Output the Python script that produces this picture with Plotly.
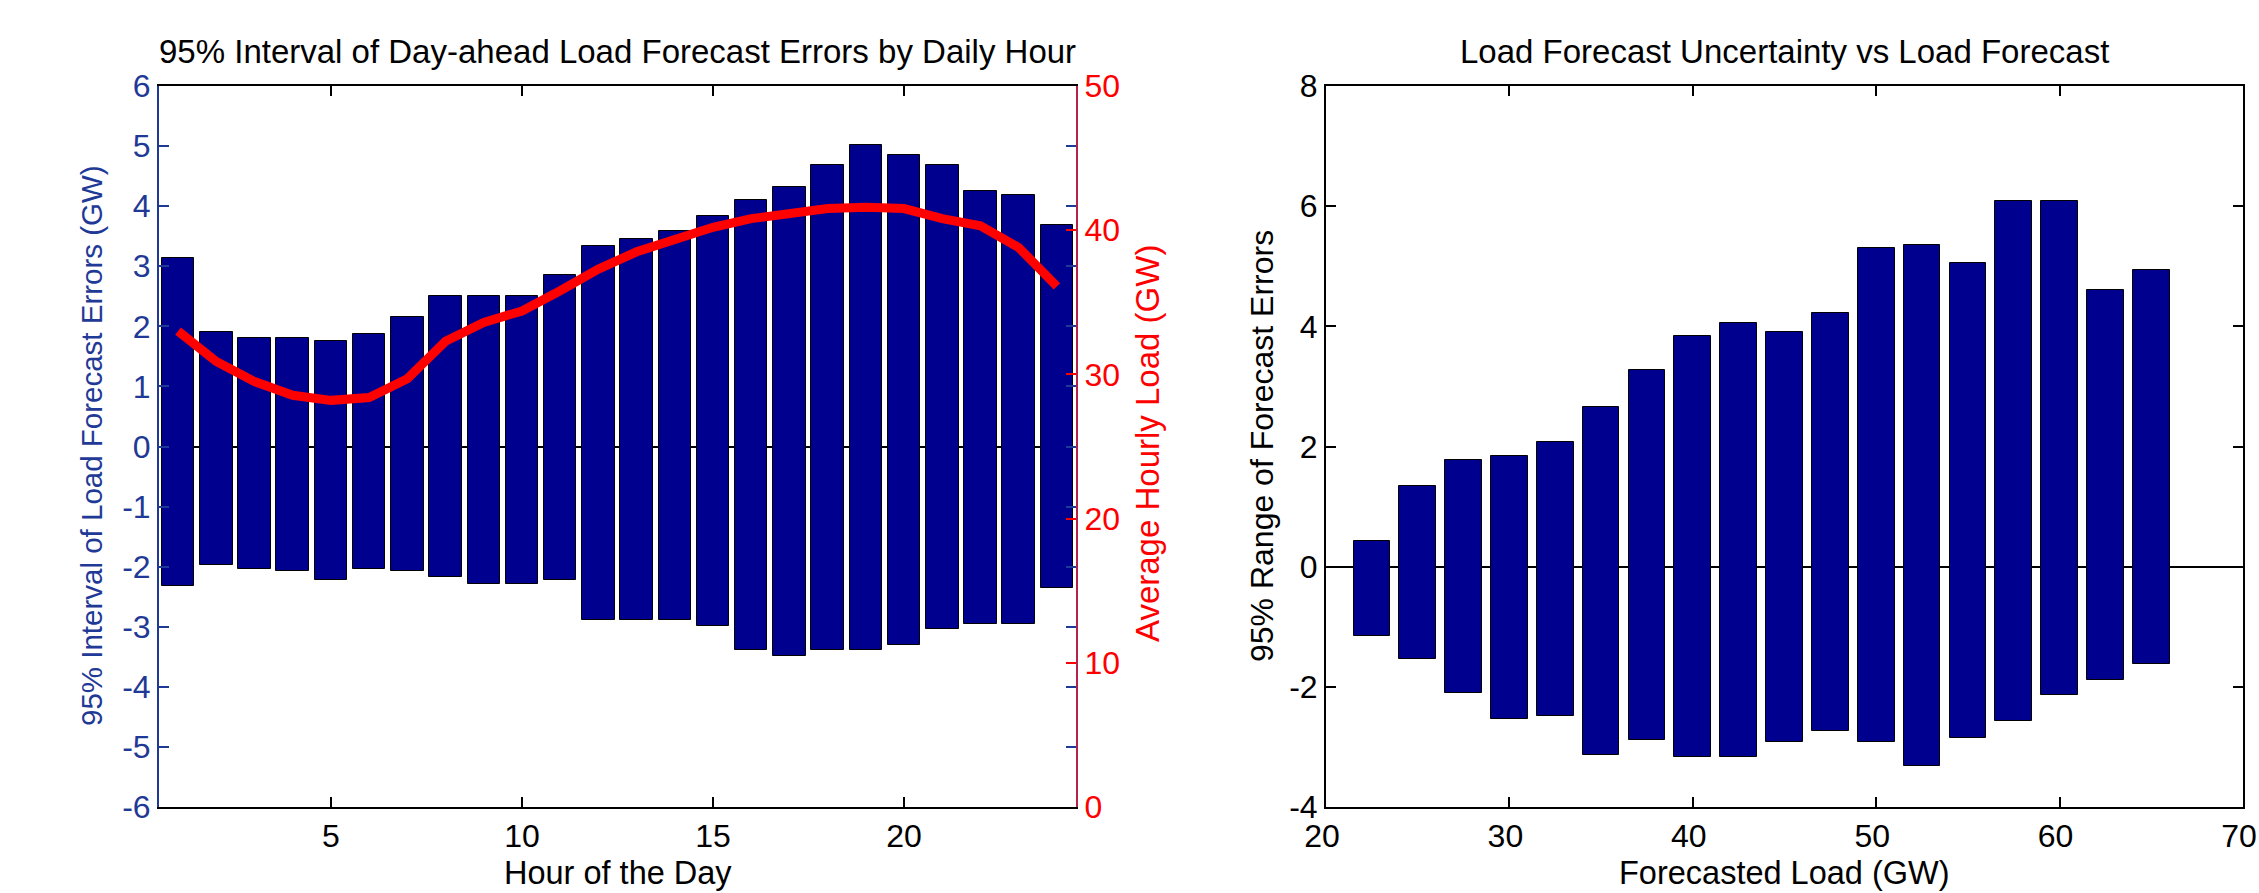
import plotly.graph_objects as go

# ---------------- data ----------------
hours = list(range(1, 25))
hour_err_high = [3.13, 1.90, 1.80, 1.80, 1.76, 1.87, 2.15, 2.50, 2.50, 2.50, 2.85, 3.34,
                 3.45, 3.59, 3.83, 4.11, 4.32, 4.68, 5.02, 4.85, 4.68, 4.25, 4.19, 3.68]
hour_err_low = [-2.32, -1.97, -2.04, -2.08, -2.22, -2.04, -2.08, -2.18, -2.29, -2.29, -2.22, -2.89,
                -2.89, -2.89, -2.99, -3.38, -3.48, -3.38, -3.38, -3.31, -3.03, -2.95, -2.95, -2.36]
avg_hourly_load = [33.0, 30.9, 29.5, 28.55, 28.2, 28.4, 29.7, 32.3, 33.6, 34.4, 35.8, 37.3,
                   38.5, 39.4, 40.2, 40.8, 41.2, 41.5, 41.6, 41.5, 40.8, 40.3, 38.8, 36.1]

load_bins = [22.5, 25.0, 27.5, 30.0, 32.5, 35.0, 37.5, 40.0, 42.5,
             45.0, 47.5, 50.0, 52.5, 55.0, 57.5, 60.0, 62.5, 65.0]
bin_err_high = [0.43, 1.34, 1.77, 1.84, 2.08, 2.66, 3.28, 3.84, 4.06,
                3.91, 4.23, 5.31, 5.35, 5.06, 6.08, 6.08, 4.61, 4.93]
bin_err_low = [-1.16, -1.54, -2.11, -2.53, -2.49, -3.13, -2.88, -3.16, -3.16,
               -2.92, -2.74, -2.92, -3.31, -2.85, -2.57, -2.14, -1.89, -1.62]

left_y_ticks = [-6, -5, -4, -3, -2, -1, 0, 1, 2, 3, 4, 5, 6]
left_y_labels = ["-6", "-5", "-4", "-3", "-2", "-1", "0", "1", "2", "3", "4", "5", "6"]
left_x_ticks = [5, 10, 15, 20]
y2_ticks = [0, 10, 20, 30, 40, 50]
right_y_ticks = [-4, -2, 0, 2, 4, 6, 8]
right_y_labels = ["-4", "-2", "0", "2", "4", "6", "8"]
right_x_ticks = [20, 30, 40, 50, 60, 70]

title_left = "95% Interval of Day-ahead Load Forecast Errors by Daily Hour"
title_right = "Load Forecast Uncertainty vs Load Forecast"

# ---------------- styling ----------------
W, H = 2259, 893
FONT = "Liberation Sans, Arial, sans-serif"
BAR = "#00008f"
BLUE = "#1f3a96"
RED = "#ff0000"
CRIMSON = "#b5234a"
TICKF = 32

def px_x(p):
    return p / W

def px_y(p):
    return 1 - p / H

ydom = [px_y(807), px_y(86)]

fig = go.Figure()

fig.add_trace(go.Bar(
    x=hours, y=[h - l for h, l in zip(hour_err_high, hour_err_low)], base=hour_err_low,
    width=0.85, marker=dict(color=BAR, line=dict(color="#000000", width=1)),
    xaxis="x", yaxis="y", showlegend=False, hoverinfo="skip"))

fig.add_trace(go.Scatter(
    x=hours, y=avg_hourly_load, mode="lines",
    line=dict(color=RED, width=9), xaxis="x", yaxis="y2", showlegend=False))

fig.add_trace(go.Bar(
    x=load_bins, y=[h - l for h, l in zip(bin_err_high, bin_err_low)], base=bin_err_low,
    width=2.0, marker=dict(color=BAR, line=dict(color="#000000", width=1)),
    xaxis="x2", yaxis="y3", showlegend=False, hoverinfo="skip"))

common = dict(automargin=False, showgrid=False, ticks="inside", ticklen=10, tickwidth=1.5,
              showline=True, linewidth=2, ticklabeloverflow="allow")

fig.update_layout(
    width=W, height=H,
    margin=dict(l=0, r=0, t=0, b=0, autoexpand=False),
    paper_bgcolor="white", plot_bgcolor="white",
    font=dict(family=FONT, size=TICKF, color="black"),
    bargap=0,
    xaxis=dict(common, domain=[px_x(159), px_x(1076)], range=[0.5, 24.5],
               tickvals=left_x_ticks, tickcolor="black", linecolor="black",
               mirror="ticks", zeroline=False, anchor="y",
               tickfont=dict(size=TICKF, color="black")),
    yaxis=dict(common, domain=ydom, range=[-6, 6], tickvals=left_y_ticks, ticktext=left_y_labels,
               tickcolor=BLUE, linecolor=BLUE, mirror="ticks",
               zeroline=True, zerolinecolor="black", zerolinewidth=2,
               layer="above traces", anchor="x",
               tickfont=dict(size=TICKF, color=BLUE)),
    yaxis2=dict(common, overlaying="y", side="right", anchor="x", range=[0, 50],
                tickvals=y2_ticks, tickcolor=RED, linecolor=CRIMSON,
                zeroline=False, tickfont=dict(size=TICKF, color=RED)),
    xaxis2=dict(common, domain=[px_x(1326), px_x(2243)], range=[20, 70],
                tickvals=right_x_ticks, tickcolor="black", linecolor="black",
                mirror="ticks", zeroline=False, anchor="y3", ticklabelshift=-4,
                tickfont=dict(size=TICKF, color="black")),
    yaxis3=dict(common, domain=ydom, range=[-4, 8], tickvals=right_y_ticks, ticktext=right_y_labels,
                tickcolor="black", linecolor="black", mirror="ticks",
                zeroline=True, zerolinecolor="black", zerolinewidth=1.5,
                layer="above traces", anchor="x2",
                tickfont=dict(size=TICKF, color="black")),
)

ann = [
    dict(text=title_left, x=px_x(617.5), y=px_y(52), font=dict(size=33, color="black")),
    dict(text=title_right, x=px_x(1784.5), y=px_y(52), font=dict(size=33, color="black")),
    dict(text="Hour of the Day", x=px_x(617.5), y=px_y(873), font=dict(size=32.5, color="black")),
    dict(text="Forecasted Load (GW)", x=px_x(1784.5), y=px_y(873), font=dict(size=32.5, color="black")),
    dict(text="95% Interval of Load Forecast Errors (GW)", x=px_x(91), y=px_y(446), textangle=-90,
         font=dict(size=29.5, color=BLUE)),
    dict(text="Average Hourly Load (GW)", x=px_x(1148), y=px_y(444), textangle=-90,
         font=dict(size=33, color=RED)),
    dict(text="95% Range of Forecast Errors", x=px_x(1262), y=px_y(446), textangle=-90,
         font=dict(size=32, color="black")),
]
for a in ann:
    a.update(xref="paper", yref="paper", showarrow=False, xanchor="center", yanchor="middle")
fig.update_layout(annotations=ann)

fig.write_html("out.html", config={"displayModeBar": False},
               post_script="document.body.style.margin='0';")
